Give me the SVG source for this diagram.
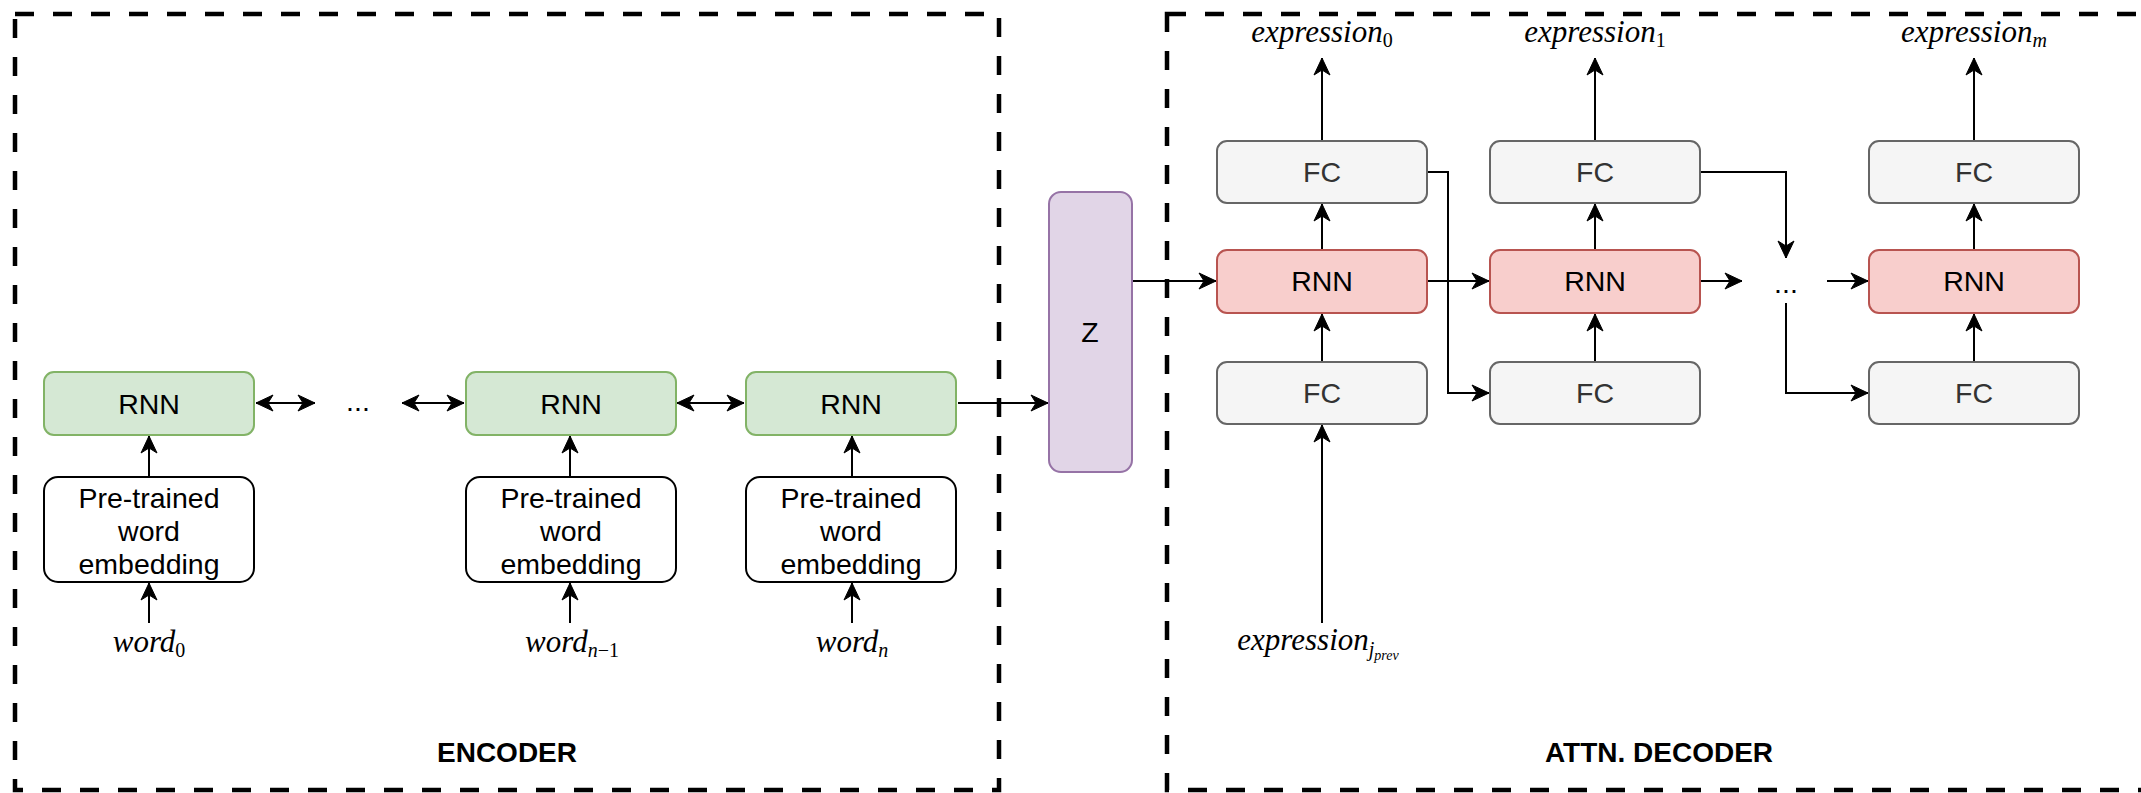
<svg xmlns="http://www.w3.org/2000/svg" width="2141" height="793" viewBox="0 0 2141 793">
<defs>
<style>
.frame{fill:none;stroke:#000;stroke-width:4.5;stroke-dasharray:19 19}
.green{fill:#d5e8d4;stroke:#82b366;stroke-width:2}
.red{fill:#f8cecc;stroke:#b85450;stroke-width:2}
.gray{fill:#f5f5f5;stroke:#666666;stroke-width:2}
.purple{fill:#e1d5e7;stroke:#9673a6;stroke-width:2}
.white{fill:#ffffff;stroke:#000;stroke-width:2}
.t{font-family:"Liberation Sans",Arial,sans-serif;font-size:28.5px;fill:#000;text-anchor:middle}
.tg{font-family:"Liberation Sans",Arial,sans-serif;font-size:28.5px;fill:#333333;text-anchor:middle}
.title{font-family:"Liberation Sans",Arial,sans-serif;font-size:28px;font-weight:bold;fill:#000;text-anchor:middle}
.m{font-family:"Liberation Serif","Times New Roman",serif;font-style:italic;font-size:31px;fill:#000;text-anchor:middle}
.sub{font-size:20px}
.up{font-style:normal}
.subsub{font-size:14px}
.c{fill:none;stroke:#000;stroke-width:2;marker-end:url(#ah)}
.d{fill:none;stroke:#000;stroke-width:2;marker-end:url(#ah);marker-start:url(#ah)}
</style>
<marker id="ah" markerUnits="userSpaceOnUse" viewBox="-20 -10 22 20" refX="0" refY="0" markerWidth="22" markerHeight="20" orient="auto-start-reverse">
<path d="M-17,-8 L0,0 L-17,8 L-12,0 z" fill="#000" stroke="#000" stroke-width="1"/>
</marker>
</defs>
<rect width="2141" height="793" fill="#ffffff"/>

<g id="encoder-frame"><rect class="frame" x="15" y="14" width="984" height="776"/></g>
<g id="decoder-frame"><rect class="frame" x="1167" y="14" width="1000" height="776"/></g>

<g id="connectors">
<line class="c" x1="149" y1="623" x2="149" y2="583"/>
<line class="c" x1="570" y1="623" x2="570" y2="583"/>
<line class="c" x1="852" y1="623" x2="852" y2="583"/>
<line class="c" x1="149" y1="477" x2="149" y2="436"/>
<line class="c" x1="570" y1="477" x2="570" y2="436"/>
<line class="c" x1="852" y1="477" x2="852" y2="436"/>
<line class="d" x1="256" y1="403" x2="315" y2="403"/>
<line class="d" x1="402" y1="403" x2="464" y2="403"/>
<line class="d" x1="677" y1="403" x2="744" y2="403"/>
<line class="c" x1="958" y1="403" x2="1048" y2="403"/>
<line class="c" x1="1132" y1="281" x2="1216" y2="281"/>
<line class="c" x1="1322" y1="623" x2="1322" y2="425"/>
<line class="c" x1="1322" y1="362" x2="1322" y2="314"/>
<line class="c" x1="1322" y1="249" x2="1322" y2="204"/>
<line class="c" x1="1322" y1="141" x2="1322" y2="58"/>
<path class="c" d="M1427,172 H1448 V393 H1489"/>
<line class="c" x1="1427" y1="281" x2="1489" y2="281"/>
<line class="c" x1="1595" y1="362" x2="1595" y2="314"/>
<line class="c" x1="1595" y1="249" x2="1595" y2="204"/>
<line class="c" x1="1595" y1="141" x2="1595" y2="58"/>
<path class="c" d="M1701,172 H1786 V258"/>
<line class="c" x1="1701" y1="281" x2="1742" y2="281"/>
<line class="c" x1="1827" y1="281" x2="1868" y2="281"/>
<path class="c" d="M1786,303 V393 H1868"/>
<line class="c" x1="1974" y1="362" x2="1974" y2="314"/>
<line class="c" x1="1974" y1="249" x2="1974" y2="204"/>
<line class="c" x1="1974" y1="141" x2="1974" y2="58"/>
</g>

<g id="enc-rnn-0"><rect class="green" x="44" y="372" width="210" height="63" rx="10"/><text class="t" x="149" y="414">RNN</text></g>
<g id="enc-rnn-n1"><rect class="green" x="466" y="372" width="210" height="63" rx="10"/><text class="t" x="571" y="414">RNN</text></g>
<g id="enc-rnn-n"><rect class="green" x="746" y="372" width="210" height="63" rx="10"/><text class="t" x="851" y="414">RNN</text></g>
<g id="enc-dots"><text class="t" x="358" y="411">...</text></g>

<g id="emb-0"><rect class="white" x="44" y="477" width="210" height="105" rx="14"/>
<text class="t" x="149" y="508">Pre-trained</text><text class="t" x="149" y="541">word</text><text class="t" x="149" y="574">embedding</text></g>
<g id="emb-n1"><rect class="white" x="466" y="477" width="210" height="105" rx="14"/>
<text class="t" x="571" y="508">Pre-trained</text><text class="t" x="571" y="541">word</text><text class="t" x="571" y="574">embedding</text></g>
<g id="emb-n"><rect class="white" x="746" y="477" width="210" height="105" rx="14"/>
<text class="t" x="851" y="508">Pre-trained</text><text class="t" x="851" y="541">word</text><text class="t" x="851" y="574">embedding</text></g>

<g id="word-0"><text class="m" x="149" y="652">word<tspan class="sub up" dy="5">0</tspan></text></g>
<g id="word-n1"><text class="m" x="572" y="652">word<tspan class="sub" dy="5">n</tspan><tspan class="sub up">−1</tspan></text></g>
<g id="word-n"><text class="m" x="852" y="652">word<tspan class="sub" dy="5">n</tspan></text></g>

<g id="z"><rect class="purple" x="1049" y="192" width="83" height="280" rx="12"/><text class="t" x="1090" y="342">Z</text></g>

<g id="dec-fc-top-0"><rect class="gray" x="1217" y="141" width="210" height="62" rx="10"/><text class="tg" x="1322" y="182">FC</text></g>
<g id="dec-rnn-0"><rect class="red" x="1217" y="250" width="210" height="63" rx="10"/><text class="t" x="1322" y="291">RNN</text></g>
<g id="dec-fc-bot-0"><rect class="gray" x="1217" y="362" width="210" height="62" rx="10"/><text class="tg" x="1322" y="403">FC</text></g>

<g id="dec-fc-top-1"><rect class="gray" x="1490" y="141" width="210" height="62" rx="10"/><text class="tg" x="1595" y="182">FC</text></g>
<g id="dec-rnn-1"><rect class="red" x="1490" y="250" width="210" height="63" rx="10"/><text class="t" x="1595" y="291">RNN</text></g>
<g id="dec-fc-bot-1"><rect class="gray" x="1490" y="362" width="210" height="62" rx="10"/><text class="tg" x="1595" y="403">FC</text></g>

<g id="dec-dots"><text class="t" x="1786" y="293">...</text></g>

<g id="dec-fc-top-m"><rect class="gray" x="1869" y="141" width="210" height="62" rx="10"/><text class="tg" x="1974" y="182">FC</text></g>
<g id="dec-rnn-m"><rect class="red" x="1869" y="250" width="210" height="63" rx="10"/><text class="t" x="1974" y="291">RNN</text></g>
<g id="dec-fc-bot-m"><rect class="gray" x="1869" y="362" width="210" height="62" rx="10"/><text class="tg" x="1974" y="403">FC</text></g>

<g id="expr-0"><text class="m" x="1322" y="42">expression<tspan class="sub up" dy="5">0</tspan></text></g>
<g id="expr-1"><text class="m" x="1595" y="42">expression<tspan class="sub up" dy="5">1</tspan></text></g>
<g id="expr-m"><text class="m" x="1974" y="42">expression<tspan class="sub" dy="5">m</tspan></text></g>
<g id="expr-jprev"><text class="m" x="1318" y="650">expression<tspan class="sub" dy="6">j</tspan><tspan class="subsub" dy="4">prev</tspan></text></g>

<g id="label-encoder"><text class="title" x="507" y="762">ENCODER</text></g>
<g id="label-decoder"><text class="title" x="1659" y="762">ATTN. DECODER</text></g>
</svg>
